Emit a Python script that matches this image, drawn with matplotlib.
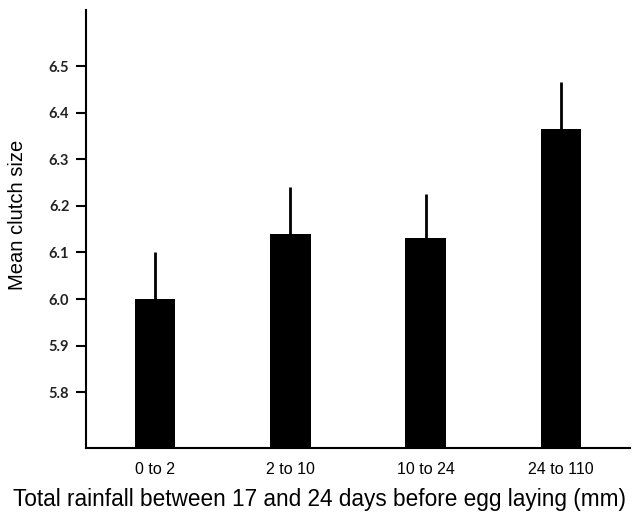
import matplotlib
matplotlib.use("Agg")
import matplotlib.pyplot as plt
import numpy as np

categories = ["0 to 2", "2 to 10", "10 to 24", "24 to 110"]
means = [6.0, 6.14, 6.13, 6.365]
errors = [0.10, 0.10, 0.095, 0.10]
yticks = [5.8, 5.9, 6.0, 6.1, 6.2, 6.3, 6.4, 6.5]

plt.rcParams['font.family'] = ['Liberation Sans', 'DejaVu Sans']

fig = plt.figure(figsize=(6.32, 5.15), dpi=100)
ax = fig.add_axes([0.136, 0.130, 0.861, 0.850])

x = np.arange(len(categories))
ax.bar(x, means, width=0.3, color='black', bottom=0)
ax.errorbar(x, means, yerr=[np.zeros(len(errors)), errors], fmt='none',
            ecolor='black', elinewidth=2, capsize=0)

ax.set_ylim(5.68, 6.62)
ax.set_xlim(-0.51, 3.51)
ax.set_yticks(yticks)
ax.set_yticklabels([f"{t:.1f}" for t in yticks], fontsize=10.5, fontweight='bold',
                   color='#222222', family=['Lato', 'DejaVu Sans'])
ax.set_xticks(x)
ax.set_xticklabels(categories, fontsize=11.5)
ax.tick_params(axis='x', length=0, pad=10)
ax.tick_params(axis='y', length=7, width=1.5, pad=5)

for s in ['top', 'right']:
    ax.spines[s].set_visible(False)
for s in ['left', 'bottom']:
    ax.spines[s].set_linewidth(1.5)

ax.set_ylabel("Mean clutch size", fontsize=14.5)
ax.yaxis.set_label_coords(-0.108, 0.532)
ax.set_xlabel("Total rainfall between 17 and 24 days before egg laying (mm)", fontsize=16.3)
ax.xaxis.set_label_coords(0.43, -0.092)

fig.savefig("out.png", dpi=100)
